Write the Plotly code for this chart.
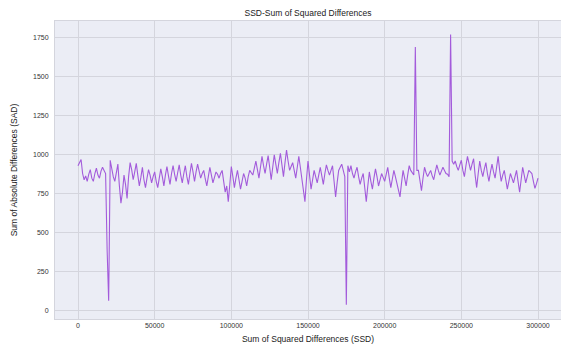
import plotly.graph_objects as go

# Sample positions (SSD) and measured values (SAD), one sample per 1000
ssd = list(range(0, 300001, 1000))
sad = [
    930, 955, 970, 880, 840, 865, 830, 875, 905, 850,
    830, 880, 915, 870, 850, 895, 920, 900, 880, 390,
    65, 965, 900, 860, 830, 890, 940, 800, 690, 760,
    870, 810, 720, 860, 950, 905, 840, 890, 945, 870,
    800, 855, 920, 840, 790, 850, 905, 870, 820, 860,
    890, 830, 790, 850, 910, 860, 800, 870, 925, 865,
    810, 880, 930, 875, 830, 885, 935, 870, 820, 880,
    930, 860, 810, 880, 945, 890, 830, 890, 940, 895,
    850, 880, 900, 845, 800, 860, 920, 870, 820, 855,
    890, 875, 850, 880, 900, 830, 760, 800, 700, 810,
    925, 860, 790, 850, 900, 840, 780, 830, 880, 850,
    800, 860, 900, 885, 870, 915, 960, 905, 850, 920,
    990, 930, 880, 940, 995, 920, 840, 920, 1000, 940,
    880, 950, 1010, 935, 860, 950, 1030, 960, 900, 925,
    950, 900, 850, 920, 990, 920, 840, 780, 700, 840,
    960, 870, 780, 840, 900, 860, 820, 870, 920, 865,
    810, 880, 935, 900, 870, 900, 930, 830, 730, 820,
    900, 920, 940, 900, 860, 40, 930, 890, 930, 880,
    850, 890, 920, 860, 810, 850, 880, 790, 700, 800,
    890, 830, 780, 850, 910, 860, 800, 840, 880, 855,
    830, 875, 920, 850, 790, 845, 900, 860, 820, 770,
    730, 820, 900, 850, 800, 870, 930, 900, 880, 870,
    1690, 900, 900, 830, 770, 850, 920, 885, 860, 880,
    900, 865, 840, 890, 935, 900, 870, 895, 920, 900,
    880, 875, 860, 1770, 960, 940, 960, 925, 900, 935,
    965, 900, 860, 930, 990, 945, 900, 940, 975, 870,
    790, 880, 960, 900, 860, 910, 950, 880, 830, 890,
    940, 890, 850, 920, 990, 900, 830, 870, 900, 840,
    780, 830, 880, 850, 820, 860, 900, 830, 760, 840,
    920, 870, 820, 860, 900, 890, 880, 830, 785, 815,
    850,
]

x_ticks = [0, 50000, 100000, 150000, 200000, 250000, 300000]
y_ticks = [0, 250, 500, 750, 1000, 1250, 1500, 1750]

GRID = "#D4D5DD"
BG = "#EBEDF5"
FONT = "Liberation Sans, Arial, sans-serif"

fig = go.Figure(
    go.Scatter(
        x=ssd,
        y=sad,
        mode="lines",
        line=dict(color="#A35BDB", width=1.1),
        hoverinfo="x+y",
    )
)

fig.update_layout(
    width=561,
    height=345,
    margin=dict(l=55, r=0, t=21, b=26),
    paper_bgcolor="white",
    plot_bgcolor=BG,
    showlegend=False,
    font=dict(family=FONT, size=7, color="#333333"),
    title=dict(
        text="SSD-Sum of Squared Differences",
        x=0.549,
        xanchor="center",
        y=0.962,
        yanchor="middle",
        font=dict(family=FONT, size=8.5, color="#222222"),
    ),
)

fig.update_xaxes(
    range=[-15000, 315000],
    tickvals=x_ticks,
    ticktext=[str(v) for v in x_ticks],
    showgrid=True,
    gridcolor=GRID,
    gridwidth=1,
    zeroline=False,
    showline=True,
    linecolor=GRID,
    linewidth=1,
    mirror=True,
    ticks="",
    automargin=False,
    tickfont=dict(size=7, color="#333333"),
    title=dict(
        text="Sum of Squared Differences (SSD)",
        font=dict(family=FONT, size=8.5, color="#222222"),
        standoff=7,
    ),
)

fig.update_yaxes(
    range=[-52, 1857],
    tickvals=y_ticks,
    ticktext=[str(v) for v in y_ticks],
    showgrid=True,
    gridcolor=GRID,
    gridwidth=1,
    zeroline=False,
    showline=True,
    linecolor=GRID,
    linewidth=1,
    mirror=True,
    ticks="",
    ticklabelstandoff=4,
    tickfont=dict(size=7, color="#333333"),
    title=dict(
        text="Sum of Absolute Differences (SAD)",
        font=dict(family=FONT, size=8.5, color="#222222"),
        standoff=14,
    ),
)

fig.write_html("out.html")
